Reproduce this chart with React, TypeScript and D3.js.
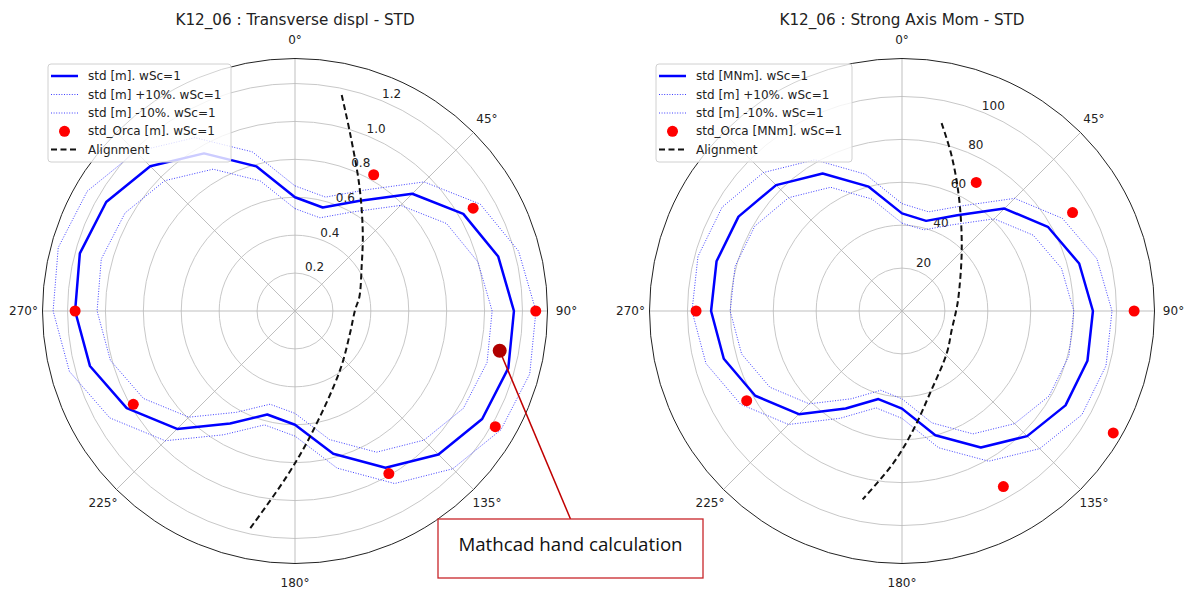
import React from 'react';
import * as d3 from 'd3';

// Heading angles (deg, clockwise from north) shared by the STD curves
const headings = [0, 15, 30, 45, 60, 75, 90, 105, 120, 135, 150, 165, 180, 195, 210, 225, 240, 255, 270, 285, 300, 315, 330, 345];

// Transverse displacement STD [m]
const dispStd = [0.6, 0.565, 0.67, 0.875, 1.025, 1.11, 1.155, 1.165, 1.14, 1.07, 0.955, 0.78, 0.6, 0.565, 0.685, 0.88, 1.025, 1.12, 1.16, 1.175, 1.15, 1.08, 0.96, 0.79];
const dispPlus10 = [0.66, 0.622, 0.737, 0.963, 1.128, 1.221, 1.271, 1.282, 1.254, 1.177, 1.051, 0.858, 0.66, 0.622, 0.754, 0.968, 1.128, 1.232, 1.276, 1.293, 1.265, 1.188, 1.056, 0.869];
const dispMinus10 = [0.54, 0.509, 0.603, 0.788, 0.923, 0.999, 1.04, 1.049, 1.026, 0.963, 0.86, 0.702, 0.54, 0.509, 0.617, 0.792, 0.923, 1.008, 1.044, 1.058, 1.035, 0.972, 0.864, 0.711];
const dispOrcaAngles = [30, 60, 90, 120, 150, 240, 270];
const dispOrca = [0.83, 1.085, 1.27, 1.22, 0.99, 0.985, 1.16];
const dispAlignAngles = [12.2, 17.2, 27.4, 41.1, 56.4, 77.5, 89, 112, 142.7, 172.2, 182.9, 191.7];
const dispAlign = [1.166, 0.982, 0.739, 0.544, 0.422, 0.348, 0.317, 0.313, 0.392, 0.651, 0.875, 1.172];
const dispTicks = [0.2, 0.4, 0.6, 0.8, 1.0, 1.2];
const dispTickLabels = ['0.2', '0.4', '0.6', '0.8', '1.0', '1.2'];
const dispRMax = 1.332;

// Mathcad hand calculation point (transverse displacement)
const mathcadAngle = 101;
const mathcadValue = 1.1;

// Strong axis moment STD [MNm]
const momStd = [45.5, 43.5, 51.5, 67.5, 78.5, 85.5, 89, 89.5, 88, 82.5, 73.5, 60, 45.5, 42.5, 52.5, 68, 79, 86, 89, 89.5, 88, 83, 74, 60];
const momPlus10 = [50.05, 47.85, 56.65, 74.25, 86.35, 94.05, 97.9, 98.45, 96.8, 90.75, 80.85, 66, 50.05, 46.75, 57.75, 74.8, 86.9, 94.6, 97.9, 98.45, 96.8, 91.3, 81.4, 66];
const momMinus10 = [40.95, 39.15, 46.35, 60.75, 70.65, 76.95, 80.1, 80.55, 79.2, 74.25, 66.15, 54, 40.95, 38.25, 47.25, 61.2, 71.1, 77.4, 80.1, 80.55, 79.2, 74.7, 66.6, 54];
const momOrcaAngles = [30, 60, 90, 120, 150, 240, 270];
const momOrca = [69.2, 91.8, 108.2, 113.7, 94.5, 83.6, 96];
const momAlignAngles = [11.9, 17.9, 27.3, 44.4, 77.3, 90, 110.9, 133.4, 161.2, 174.6, 183.3, 191.8];
const momAlign = [89.5, 75.6, 58.2, 39.8, 26.9, 25.2, 24.8, 28.7, 40.5, 55.7, 71.1, 89.7];
const momTicks = [20, 40, 60, 80, 100];
const momTickLabels = ['20', '40', '60', '80', '100'];
const momRMax = 117.7;

// Angular grid every 45°; the 315° label sits under the legend, so only the others are labelled
const thetaTicks = [0, 45, 90, 135, 180, 225, 270, 315];
const thetaLabels = [0, 45, 90, 135, 180, 225, 270];

const dispLegend = ['std [m]. wSc=1', 'std [m] +10%. wSc=1', 'std [m] -10%. wSc=1', 'std_Orca [m]. wSc=1', 'Alignment'];
const momLegend = ['std [MNm]. wSc=1', 'std [m] +10%. wSc=1', 'std [m] -10%. wSc=1', 'std_Orca [MNm]. wSc=1', 'Alignment'];

const FONT = 'DejaVu Sans, sans-serif';
const rad = (deg: number) => (deg * Math.PI) / 180;

type ChartProps = {
  cx: number;
  cy: number;
  R: number;
  rMax: number;
  title: string;
  ticks: number[];
  tickLabels: string[];
  std: number[];
  plus: number[];
  minus: number[];
  orcaAngles: number[];
  orca: number[];
  alignAngles: number[];
  align: number[];
  legend: string[];
  legendX: number;
  legendW: number;
};

function PolarChart(p: ChartProps) {
  const r = d3.scaleLinear().domain([0, p.rMax]).range([0, p.R]);
  const closed = (vals: number[]) =>
    d3
      .lineRadial<number>()
      .angle((_, i) => rad(headings[i]))
      .radius((v) => r(v))
      .curve(d3.curveLinearClosed)(vals) || '';
  const alignPath =
    d3
      .lineRadial<number>()
      .angle((_, i) => rad(p.alignAngles[i]))
      .radius((v) => r(v))
      .curve(d3.curveCatmullRom)(p.align) || '';
  const pt = (deg: number, v: number) => [r(v) * Math.sin(rad(deg)), -r(v) * Math.cos(rad(deg))];

  const rowY = [76, 94.5, 113, 131.3, 149.6];
  const lx = p.legendX;
  return (
    <g>
      <text x={p.cx} y={20} textAnchor="middle" dominantBaseline="central" fontFamily={FONT} fontSize={15.2} fill="#222">
        {p.title}
      </text>
      <g transform={`translate(${p.cx},${p.cy})`}>
        {/* radial rings */}
        {p.ticks.map((t) => (
          <circle key={t} r={r(t)} fill="none" stroke="#c8c8c8" strokeWidth={1} />
        ))}
        {/* angular spokes */}
        {thetaTicks.map((a) => {
          const [x, y] = pt(a, p.rMax);
          return <line key={a} x1={0} y1={0} x2={x} y2={y} stroke="#b8b8b8" strokeWidth={0.9} />;
        })}
        <circle r={p.R} fill="none" stroke="#222" strokeWidth={1} />
        {/* radial tick labels */}
        {p.ticks.map((t, i) => {
          const rr = r(t) + 10;
          const a = rad(24);
          return (
            <text key={t} x={rr * Math.sin(a)} y={-rr * Math.cos(a)} textAnchor="middle" dominantBaseline="central" fontFamily={FONT} fontSize={12} fill="#222">
              {p.tickLabels[i]}
            </text>
          );
        })}
        {/* angle labels */}
        {thetaLabels.map((a) => {
          const rr = p.R + 19;
          return (
            <text key={a} x={rr * Math.sin(rad(a))} y={-rr * Math.cos(rad(a))} textAnchor="middle" dominantBaseline="central" fontFamily={FONT} fontSize={12} fill="#222">
              {`${a}°`}
            </text>
          );
        })}
        <path d={closed(p.std)} fill="none" stroke="#0000ff" strokeWidth={2.5} strokeLinejoin="round" />
        <path d={closed(p.plus)} fill="none" stroke="#2a2aff" strokeWidth={0.9} strokeDasharray="1,1.6" />
        <path d={closed(p.minus)} fill="none" stroke="#2a2aff" strokeWidth={0.9} strokeDasharray="1,1.6" />
        {p.orca.map((v, i) => {
          const [x, y] = pt(p.orcaAngles[i], v);
          return <circle key={i} cx={x} cy={y} r={5.5} fill="#ff0000" />;
        })}
        <path d={alignPath} fill="none" stroke="#111" strokeWidth={2} strokeDasharray="6,3.5" />
      </g>
      {/* legend */}
      <rect x={lx} y={64} width={p.legendW} height={98} rx={3} fill="#fff" fillOpacity={0.8} stroke="#d0d0d0" strokeWidth={1} />
      <line x1={lx + 3} x2={lx + 30} y1={rowY[0]} y2={rowY[0]} stroke="#0000ff" strokeWidth={2.5} />
      <line x1={lx + 3} x2={lx + 30} y1={rowY[1]} y2={rowY[1]} stroke="#2a2aff" strokeWidth={0.9} strokeDasharray="1,1.6" />
      <line x1={lx + 3} x2={lx + 30} y1={rowY[2]} y2={rowY[2]} stroke="#2a2aff" strokeWidth={0.9} strokeDasharray="1,1.6" />
      <circle cx={lx + 16.5} cy={rowY[3]} r={5.5} fill="#ff0000" />
      <line x1={lx + 3} x2={lx + 30} y1={rowY[4]} y2={rowY[4]} stroke="#111" strokeWidth={2} strokeDasharray="6,3.5" />
      {p.legend.map((s, i) => (
        <text key={i} x={lx + 40} y={rowY[i]} dominantBaseline="central" fontFamily={FONT} fontSize={12} fill="#222">
          {s}
        </text>
      ))}
    </g>
  );
}

export default function App() {
  const leftCx = 295;
  const leftCy = 311;
  const R = 252.5;
  const rLeft = d3.scaleLinear().domain([0, dispRMax]).range([0, R]);
  const mx = leftCx + rLeft(mathcadValue) * Math.sin(rad(mathcadAngle));
  const my = leftCy - rLeft(mathcadValue) * Math.cos(rad(mathcadAngle));
  const box = { x: 438, y: 519, w: 265, h: 59 };
  return (
    <svg width={1192} height={589} style={{ position: 'absolute', left: 0, top: 0, background: '#fff' }}>
      <rect width={1192} height={589} fill="#fff" />
      <PolarChart
        cx={leftCx}
        cy={leftCy}
        R={R}
        rMax={dispRMax}
        title="K12_06 : Transverse displ - STD"
        ticks={dispTicks}
        tickLabels={dispTickLabels}
        std={dispStd}
        plus={dispPlus10}
        minus={dispMinus10}
        orcaAngles={dispOrcaAngles}
        orca={dispOrca}
        alignAngles={dispAlignAngles}
        align={dispAlign}
        legend={dispLegend}
        legendX={48}
        legendW={183}
      />
      <PolarChart
        cx={902}
        cy={311}
        R={R}
        rMax={momRMax}
        title="K12_06 : Strong Axis Mom - STD"
        ticks={momTicks}
        tickLabels={momTickLabels}
        std={momStd}
        plus={momPlus10}
        minus={momMinus10}
        orcaAngles={momOrcaAngles}
        orca={momOrca}
        alignAngles={momAlignAngles}
        align={momAlign}
        legend={momLegend}
        legendX={656}
        legendW={196}
      />
      {/* Mathcad callout */}
      <line x1={mx} y1={my} x2={box.x + box.w / 2} y2={box.y} stroke="#c00000" strokeWidth={1.5} />
      <circle cx={mx} cy={my} r={7} fill="#b00000" />
      <rect x={box.x} y={box.y} width={box.w} height={box.h} fill="#fff" stroke="#c8262a" strokeWidth={1.3} />
      <text x={box.x + box.w / 2} y={box.y + 24} textAnchor="middle" dominantBaseline="central" fontFamily="Open Sans, sans-serif" fontSize={18.7} fill="#111">
        Mathcad hand calculation
      </text>
    </svg>
  );
}
